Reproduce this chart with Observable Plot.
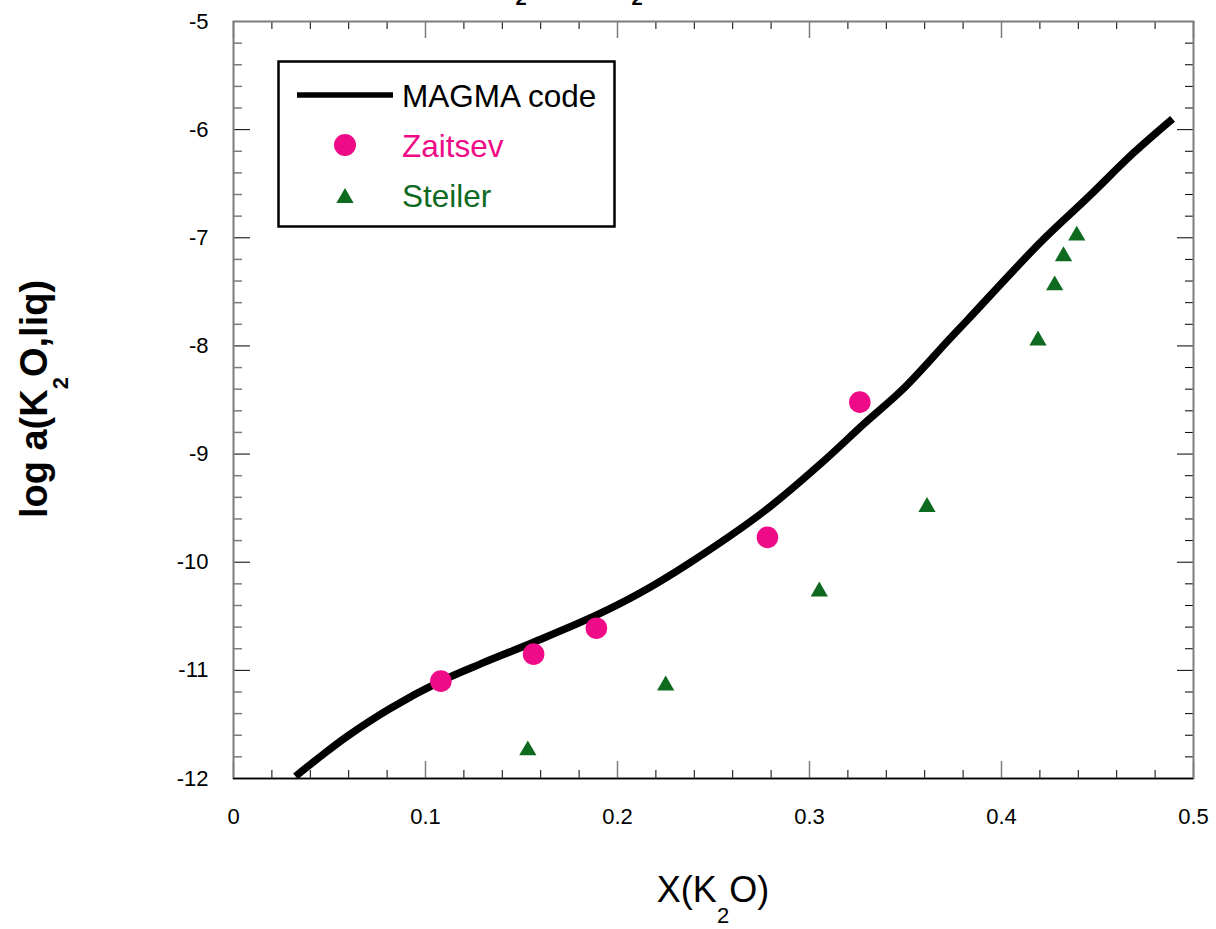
<!DOCTYPE html>
<html>
<head>
<meta charset="utf-8">
<script src="https://cdn.jsdelivr.net/npm/d3@7"></script>
<script src="https://cdn.jsdelivr.net/npm/@observablehq/plot@0.6"></script>
<style>
  html, body { margin: 0; padding: 0; background: #ffffff; }
  #chart svg { display: block; }
</style>
</head>
<body>
<div id="chart"></div>
<script>
// MAGMA code model curve: log activity of K2O in the liquid vs. mole fraction
const magmaX = [0.0323, 0.045, 0.0592, 0.0818, 0.108, 0.1287, 0.1563, 0.189, 0.2112,
                0.2364, 0.2763, 0.3058, 0.3284, 0.3492, 0.3727, 0.3823, 0.4204, 0.4448, 0.4691, 0.4891];
const magmaY = [-11.98, -11.80, -11.61, -11.35, -11.10, -10.94, -10.74, -10.49, -10.29,
                -10.02, -9.53, -9.09, -8.72, -8.39, -7.94, -7.76, -7.04, -6.63, -6.21, -5.90];

// Zaitsev measurements
const zaitsevX = [0.108, 0.1563, 0.189, 0.2781, 0.3262];
const zaitsevY = [-11.10, -10.85, -10.61, -9.77, -8.52];

// Steiler measurements
const steilerX = [0.1533, 0.2251, 0.3051, 0.3612, 0.419, 0.4277, 0.4323, 0.4392];
const steilerY = [-11.74, -11.14, -10.27, -9.49, -7.95, -7.44, -7.17, -6.98];

// Axis tick labels
const xTickLabels = [0, 0.1, 0.2, 0.3, 0.4, 0.5];
const yTickLabels = [-12, -11, -10, -9, -8, -7, -6, -5];

const pink = "#EF0A88";
const green = "#0E6A1F";
const frameGray = "#7d7d7d";

const magma = magmaX.map((x, i) => ({x, y: magmaY[i]}));
const zaitsev = zaitsevX.map((x, i) => ({x, y: zaitsevY[i]}));
const steiler = steilerX.map((x, i) => ({x, y: steilerY[i]}));

// Minor tick positions (every 0.02 in x, every 0.2 in y)
const xMinor = d3.ticks(0, 0.5, 25).filter(v => Math.abs(v * 10 - Math.round(v * 10)) > 1e-6);
const yMinor = d3.ticks(-12, -5, 35).filter(v => Math.abs(v - Math.round(v)) > 1e-6);

const [xMin, xMax] = [0, 0.5];
const [yMin, yMax] = [-12, -5];

const chart = Plot.plot({
  width: 1216,
  height: 929,
  marginLeft: 233,
  marginRight: 23,
  marginTop: 21,
  marginBottom: 151,
  x: {domain: [xMin, xMax]},
  y: {domain: [yMin, yMax]},
  style: {
    fontFamily: "'Liberation Sans', Arial, Helvetica, sans-serif",
    fontSize: "22px",
    background: "#ffffff",
    color: "#000000"
  },
  marks: [
    Plot.axisX(xTickLabels, {
      anchor: "bottom", tickSize: 0, tickPadding: 30,
      tickFormat: d => String(d), fontSize: 22, fill: "#000", label: null
    }),
    Plot.axisY(yTickLabels, {
      anchor: "left", tickSize: 0, tickPadding: 25,
      tickFormat: d => String(d), fontSize: 22, fill: "#000", label: null
    }),

    // inward ticks on all four sides
    Plot.ruleX(xTickLabels, {x: d => d, y1: yMin, y2: yMin, insetTop: -17, stroke: frameGray, strokeWidth: 1.5}),
    Plot.ruleX(xMinor, {x: d => d, y1: yMin, y2: yMin, insetTop: -8, stroke: "#000", strokeWidth: 1}),
    Plot.ruleX(xTickLabels, {x: d => d, y1: yMax, y2: yMax, insetBottom: -17, stroke: frameGray, strokeWidth: 1.5}),
    Plot.ruleX(xMinor, {x: d => d, y1: yMax, y2: yMax, insetBottom: -8, stroke: "#000", strokeWidth: 1}),
    Plot.ruleY(yTickLabels, {y: d => d, x1: xMin, x2: xMin, insetRight: -17, stroke: "#000", strokeWidth: 1}),
    Plot.ruleY(yMinor, {y: d => d, x1: xMin, x2: xMin, insetRight: -9, stroke: frameGray, strokeWidth: 1.5}),
    Plot.ruleY(yTickLabels, {y: d => d, x1: xMax, x2: xMax, insetLeft: -16, stroke: "#000", strokeWidth: 1}),
    Plot.ruleY(yMinor, {y: d => d, x1: xMax, x2: xMax, insetLeft: -8, stroke: "#000", strokeWidth: 1}),

    Plot.frame({stroke: frameGray, strokeWidth: 2}),
    Plot.ruleY([yMin], {stroke: "#000", strokeWidth: 1.5}),

    Plot.line(magma, {x: "x", y: "y", stroke: "#000", strokeWidth: 7.5, curve: "catmull-rom", strokeLinecap: "butt"}),
    Plot.dot(zaitsev, {x: "x", y: "y", r: 10.8, fill: pink, symbol: "circle"}),
    Plot.dot(steiler, {x: "x", y: "y", r: 6.4, fill: green, symbol: "triangle"})
  ]
});

const svg = d3.select(chart);
const font = "'Liberation Sans', Arial, Helvetica, sans-serif";

// Title along the top edge
const title = svg.append("text")
  .attr("x", 493).attr("y", -4)
  .attr("text-anchor", "start")
  .attr("font-family", font).attr("font-weight", "bold").attr("font-size", 31)
  .attr("fill", "#000");
title.append("tspan").text("K");
title.append("tspan").attr("font-size", 20).attr("dy", 9).text("2");
title.append("tspan").attr("dy", -9).text("O - SiO");
title.append("tspan").attr("font-size", 20).attr("dy", 9).text("2");

// x-axis title: X(K2O)
const xTitle = svg.append("text")
  .attr("x", 713).attr("y", 902)
  .attr("text-anchor", "middle")
  .attr("font-family", font).attr("font-size", 36).attr("fill", "#000");
xTitle.append("tspan").text("X(K");
xTitle.append("tspan").attr("font-size", 22).attr("dy", 21).text("2");
xTitle.append("tspan").attr("dy", -21).text("O)");

// y-axis title: log a(K2O,liq)
const yTitle = svg.append("text")
  .attr("transform", "translate(47,399) rotate(-90)")
  .attr("text-anchor", "middle")
  .attr("font-family", font).attr("font-weight", "bold").attr("font-size", 38).attr("fill", "#000");
yTitle.append("tspan").text("log a(K");
yTitle.append("tspan").attr("font-size", 22).attr("dy", 21).text("2");
yTitle.append("tspan").attr("dy", -21).text("O,liq)");

// Legend box
const legend = svg.append("g").attr("text-anchor", "start");
legend.append("rect")
  .attr("x", 278.5).attr("y", 61.5).attr("width", 336).attr("height", 165)
  .attr("fill", "#fff").attr("stroke", "#000").attr("stroke-width", 2.5);
legend.append("line")
  .attr("x1", 297).attr("x2", 393).attr("y1", 95).attr("y2", 95)
  .attr("stroke", "#000").attr("stroke-width", 5.5);
legend.append("circle")
  .attr("cx", 345).attr("cy", 145).attr("r", 11).attr("fill", pink);
legend.append("path")
  .attr("transform", "translate(345,198)")
  .attr("d", d3.symbol(d3.symbolTriangle, Math.PI * 6.4 * 6.4)())
  .attr("fill", green);
const entries = [
  {label: "MAGMA code", color: "#000", y: 107},
  {label: "Zaitsev", color: pink, y: 157},
  {label: "Steiler", color: green, y: 207}
];
legend.selectAll("text.entry").data(entries).join("text")
  .attr("class", "entry")
  .attr("x", 402).attr("y", d => d.y)
  .attr("text-anchor", "start")
  .attr("font-family", font).attr("font-size", 31.5)
  .attr("fill", d => d.color)
  .text(d => d.label);

document.getElementById("chart").appendChild(chart);
</script>
</body>
</html>
